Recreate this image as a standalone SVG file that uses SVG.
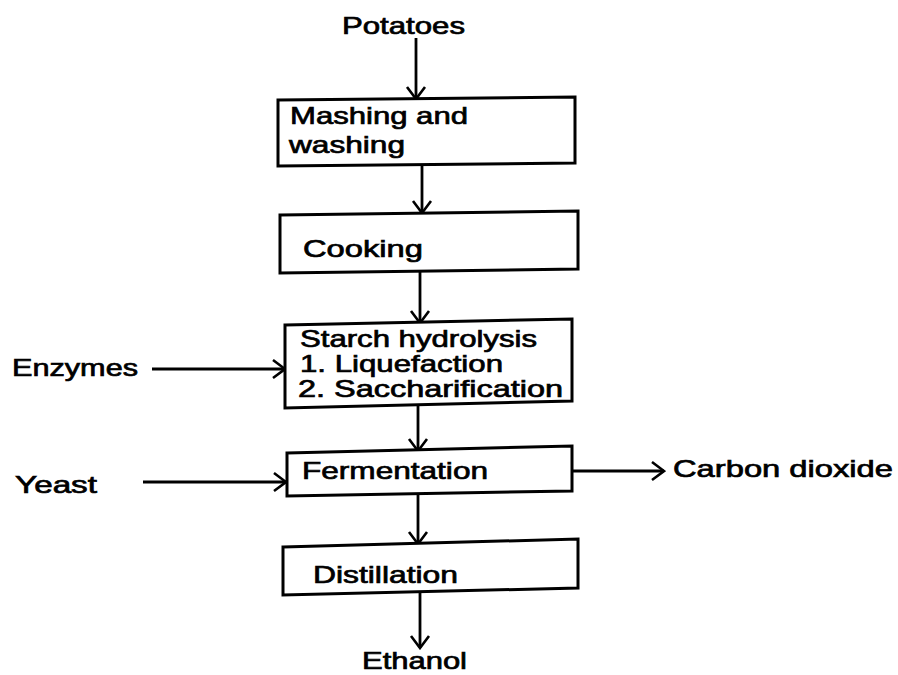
<svg xmlns="http://www.w3.org/2000/svg" width="898" height="675" viewBox="0 0 898 675">
<style>
.box{fill:#fff;stroke:#000;stroke-width:3;stroke-linejoin:miter}
.t{font-family:"Liberation Sans",Arial,sans-serif;font-size:24px;fill:#000;stroke:#000;stroke-width:0.7}
.c{stroke:#000;stroke-width:2.8;fill:none}
</style>
<defs>
<marker id="ah" viewBox="0 0 16 22" refX="14" refY="11" markerWidth="16" markerHeight="22" markerUnits="userSpaceOnUse" orient="auto">
<polyline points="2,2 14,11 2,20" fill="none" stroke="#000" stroke-width="2.6"/>
</marker>
</defs>
<rect width="898" height="675" fill="#fff"/>
<g id="connectors">
<line class="c" x1="416" y1="38" x2="416" y2="99" marker-end="url(#ah)"/>
<line class="c" x1="422" y1="166" x2="422" y2="213" marker-end="url(#ah)"/>
<line class="c" x1="420" y1="272" x2="420" y2="323" marker-end="url(#ah)"/>
<line class="c" x1="152" y1="369" x2="285" y2="369" marker-end="url(#ah)"/>
<line class="c" x1="418" y1="406" x2="418" y2="451" marker-end="url(#ah)"/>
<line class="c" x1="143" y1="482" x2="286" y2="482" marker-end="url(#ah)"/>
<line class="c" x1="572" y1="471" x2="664" y2="471" marker-end="url(#ah)"/>
<line class="c" x1="418" y1="494" x2="418" y2="544" marker-end="url(#ah)"/>
<line class="c" x1="420" y1="593" x2="420" y2="648" marker-end="url(#ah)"/>
</g>
<g id="potatoes"><text class="t" x="342" y="34" textLength="123" lengthAdjust="spacingAndGlyphs">Potatoes</text></g>
<g id="mashing">
<polygon class="box" points="278,100 575,97 575,163 278,166"/>
<text class="t" x="290" y="124" textLength="178" lengthAdjust="spacingAndGlyphs">Mashing and</text>
<text class="t" x="289" y="153" textLength="116" lengthAdjust="spacingAndGlyphs">washing</text>
</g>
<g id="cooking">
<polygon class="box" points="280,215 578,211 578,269 280,273"/>
<text class="t" x="303" y="257" textLength="120" lengthAdjust="spacingAndGlyphs">Cooking</text>
</g>
<g id="starch">
<polygon class="box" points="285,325 572,319 572,401 285,408"/>
<text class="t" x="300" y="347" textLength="237" lengthAdjust="spacingAndGlyphs">Starch hydrolysis</text>
<text class="t" x="300" y="372" textLength="203" lengthAdjust="spacingAndGlyphs">1. Liquefaction</text>
<text class="t" x="298" y="397" textLength="265" lengthAdjust="spacingAndGlyphs">2. Saccharification</text>
</g>
<g id="enzymes"><text class="t" x="12" y="376" textLength="126" lengthAdjust="spacingAndGlyphs">Enzymes</text></g>
<g id="fermentation">
<polygon class="box" points="287,453 572,446 572,491 287,496"/>
<text class="t" x="302" y="479" textLength="186" lengthAdjust="spacingAndGlyphs">Fermentation</text>
</g>
<g id="yeast"><text class="t" x="15" y="493" textLength="82" lengthAdjust="spacingAndGlyphs">Yeast</text></g>
<g id="co2"><text class="t" x="673" y="477" textLength="220" lengthAdjust="spacingAndGlyphs">Carbon dioxide</text></g>
<g id="distillation">
<polygon class="box" points="283,547 578,539 578,588 283,595"/>
<text class="t" x="313" y="583" textLength="145" lengthAdjust="spacingAndGlyphs">Distillation</text>
</g>
<g id="ethanol"><text class="t" x="362" y="669" textLength="105" lengthAdjust="spacingAndGlyphs">Ethanol</text></g>
</svg>
